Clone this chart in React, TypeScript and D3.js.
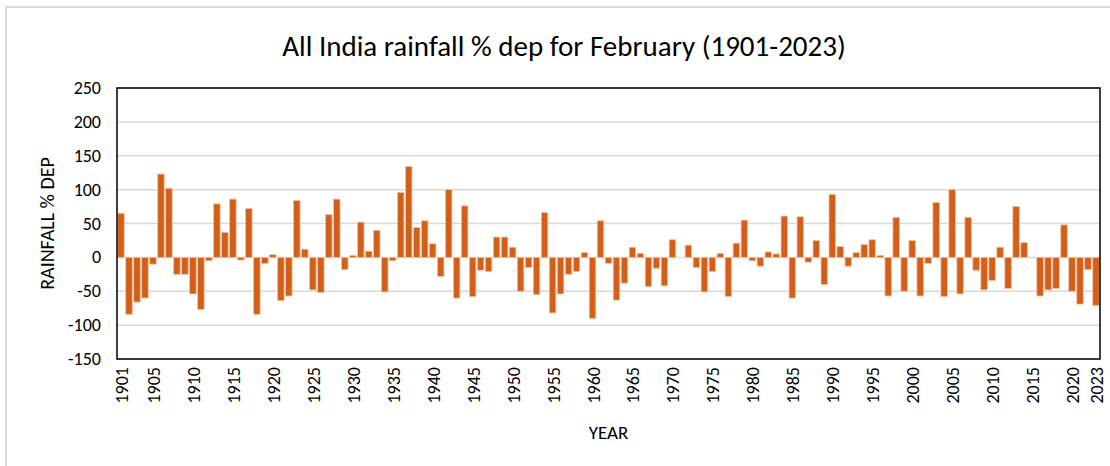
import React, { useEffect, useRef } from "react";
import * as d3 from "d3";

// February all-India rainfall departure (%), one value per year from 1901
const startYear = 1901;
const depValues = [
  65, -84, -66, -60, -10, 123, 102, -25, -25, -54,
  -77, -5, 79, 37, 86, -4, 72, -84, -9, 4,
  -64, -57, 84, 12, -48, -52, 63, 86, -18, 3,
  52, 9, 40, -51, -5, 96, 134, 44, 54, 20,
  -28, 100, -60, 76, -58, -19, -21, 30, 30, 15,
  -50, -15, -55, 66, -82, -54, -25, -21, 7, -90,
  54, -9, -63, -38, 15, 6, -43, -16, -42, 26,
  0, 18, -15, -51, -21, 6, -58, 21, 55, -5,
  -13, 8, 5, 61, -60, 60, -7, 25, -40, 93,
  16, -13, 7, 19, 26, 3, -57, 59, -50, 25,
  -57, -9, 81, -58, 100, -54, 59, -19, -48, -34,
  15, -46, 75, 22, 0, -57, -48, -46, 48, -50,
  -69, -18, -71,
];
const years = depValues.map((_, i) => startYear + i);

const yTicks = [-150, -100, -50, 0, 50, 100, 150, 200, 250];
const xTickYears = [1901, 1905, 1910, 1915, 1920, 1925, 1930, 1935, 1940, 1945, 1950, 1955, 1960, 1965, 1970, 1975, 1980, 1985, 1990, 1995, 2000, 2005, 2010, 2015, 2020, 2023];

const W = 1110;
const H = 466;
const FONT = "Carlito, Calibri, Lato, 'Open Sans', sans-serif";

const Chart = () => {
  const ref = useRef<SVGSVGElement>(null);

  useEffect(() => {
    const svg = d3.select(ref.current);
    svg.selectAll("*").remove();

    const left = 117, right = 1100, top = 88, bottom = 359;

    const x = d3.scaleBand<number>()
      .domain(years)
      .range([left, right])
      .paddingInner(0.18)
      .paddingOuter(0.09);

    const y = d3.scaleLinear().domain([-150, 250]).range([bottom, top]);

    svg.append("rect").attr("width", W).attr("height", H).attr("fill", "#fff");

    // outer chart frame (only left and top edges fall inside the picture)
    svg.append("path")
      .attr("d", `M6,${H} L6,7 L${W},7`)
      .attr("fill", "none")
      .attr("stroke", "#d9d9d9")
      .attr("stroke-width", 2);

    // title
    svg.append("text")
      .attr("x", 564)
      .attr("y", 46)
      .attr("text-anchor", "middle")
      .attr("dominant-baseline", "central")
      .style("font-family", FONT)
      .style("font-size", "29px")
      .style("font-weight", 300)
      .style("fill", "#000")
      .text("All India rainfall % dep for February (1901-2023)");

    // gridlines
    svg.append("g")
      .selectAll("line")
      .data(yTicks)
      .join("line")
      .attr("x1", left)
      .attr("x2", right)
      .attr("y1", (d) => y(d))
      .attr("y2", (d) => y(d))
      .attr("stroke", "#d9d9d9")
      .attr("stroke-width", 1.5);

    // bars
    svg.append("g")
      .selectAll("rect")
      .data(depValues)
      .join("rect")
      .attr("x", (_, i) => x(years[i]) as number)
      .attr("width", x.bandwidth())
      .attr("y", (d) => y(Math.max(0, d)))
      .attr("height", (d) => Math.abs(y(d) - y(0)))
      .attr("fill", "#d2601a")
      .attr("stroke", "#f4c3a0")
      .attr("stroke-width", 0.8);

    // plot frame
    svg.append("rect")
      .attr("x", left)
      .attr("y", top)
      .attr("width", right - left)
      .attr("height", bottom - top)
      .attr("fill", "none")
      .attr("stroke", "#000")
      .attr("stroke-width", 1.5);

    // y tick labels
    svg.append("g")
      .selectAll("text")
      .data(yTicks)
      .join("text")
      .attr("x", 101)
      .attr("y", (d) => y(d))
      .attr("text-anchor", "end")
      .attr("dominant-baseline", "central")
      .style("font-family", FONT)
      .style("font-size", "18px")
      .style("fill", "#000")
      .text((d) => d);

    // x tick labels, rotated
    svg.append("g")
      .selectAll("text")
      .data(xTickYears)
      .join("text")
      .attr("transform", (d) => {
        const cx = (x(d) as number) + x.bandwidth() / 2;
        return `translate(${cx + 1},${bottom + 8}) rotate(-90)`;
      })
      .attr("text-anchor", "end")
      .attr("dominant-baseline", "central")
      .style("font-family", FONT)
      .style("font-size", "18px")
      .style("fill", "#000")
      .text((d) => d);

    // axis titles
    svg.append("text")
      .attr("transform", `translate(47,${(top + bottom) / 2}) rotate(-90)`)
      .attr("text-anchor", "middle")
      .attr("dominant-baseline", "central")
      .style("font-family", FONT)
      .style("font-size", "20px")
      .style("fill", "#000")
      .text("RAINFALL % DEP");

    svg.append("text")
      .attr("x", (left + right) / 2)
      .attr("y", 432)
      .attr("text-anchor", "middle")
      .attr("dominant-baseline", "central")
      .style("font-family", FONT)
      .style("font-size", "19px")
      .style("fill", "#000")
      .text("YEAR");
  }, []);

  return <svg ref={ref} width={W} height={H} style={{ display: "block" }} />;
};

export default function App() {
  return (
    <div style={{ position: "absolute", left: 0, top: 0 }}>
      <Chart />
    </div>
  );
}
